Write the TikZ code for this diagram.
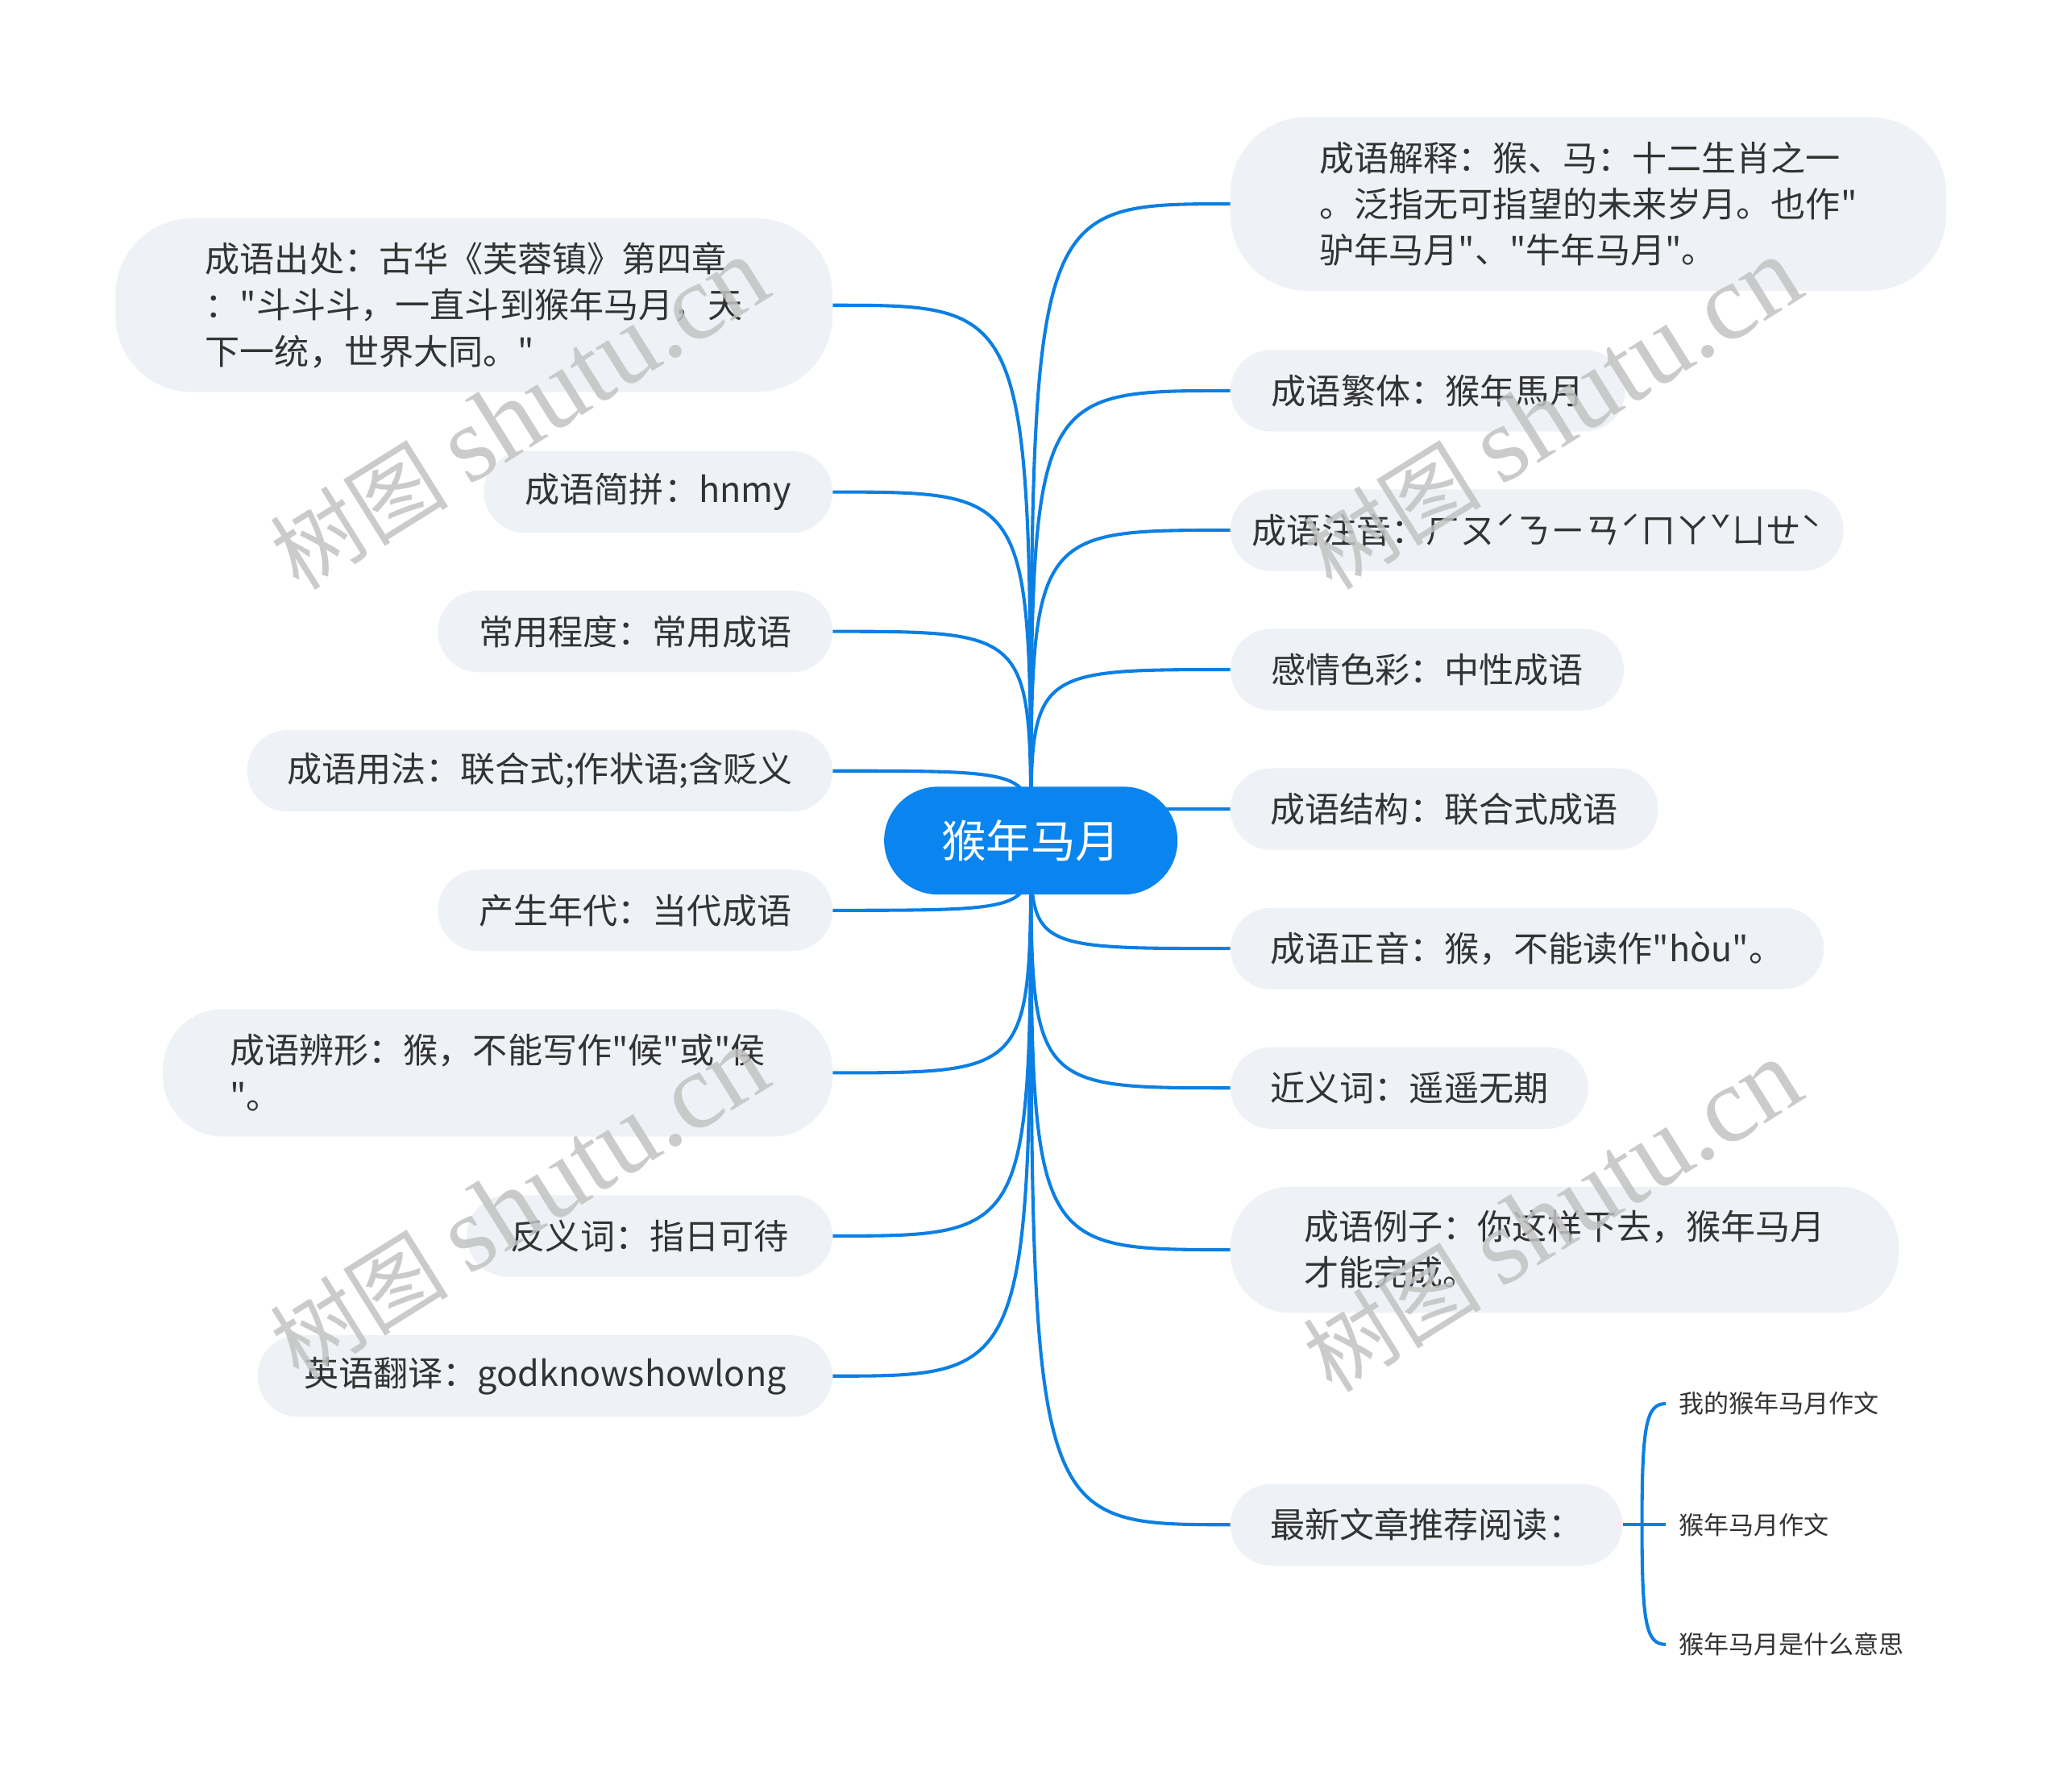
\documentclass[tikz,border=0pt]{standalone}
\usepackage{fontspec}
\setmainfont{Noto Sans CJK SC}
\newfontfamily\cjk{Noto Sans CJK SC}
\newfontfamily\wmlatin{Liberation Serif}
\usetikzlibrary{backgrounds}
\definecolor{branchblue}{HTML}{0B7FE3}
\definecolor{rootblue}{HTML}{0A84EE}
\definecolor{boxgray}{HTML}{EEF1F5}
\definecolor{textgray}{HTML}{333333}

\begin{document}
\begin{tikzpicture}[x=1pt,y=-1pt,
  centerbox/.style={fill=rootblue,text=white,rounded corners=41pt,
    minimum width=223pt,minimum height=82pt,inner sep=0pt,
    font=\cjk\fontsize{34pt}{40pt}\selectfont},
  topic/.style={fill=boxgray,text=textgray,rounded corners=31pt,
    minimum height=62pt,inner sep=0pt,align=left,
    font=\cjk\fontsize{26.4pt}{35pt}\selectfont},
  lefttopic/.style={topic,anchor=east},
  righttopic/.style={topic,anchor=west},
  leaf/.style={text=textgray,anchor=west,inner xsep=10pt,inner ysep=4pt,
    font=\cjk\fontsize{19pt}{24pt}\selectfont},
  link/.style={draw=branchblue,line width=2.5pt},
  wm/.style={text=black!24,text opacity=0.85,rotate=32,inner sep=0pt}]
  \useasboundingbox (0,0) rectangle (1568,1362);

  % center topic
  \node[centerbox] (idiom) at (783.5,639) {猴年马月};

  % left side
  \node[lefttopic,minimum width=545pt,minimum height=132pt,rounded corners=58pt]
    (source) at (633,232) {成语出处：古华《芙蓉镇》第四章\\："斗斗斗，一直斗到猴年马月，天\\下一统，世界大同。"};
  \node[lefttopic,minimum width=265pt] (abbr) at (633,374) {成语简拼：hnmy};
  \node[lefttopic,minimum width=300pt] (freq) at (633,480) {常用程度：常用成语};
  \node[lefttopic,minimum width=445pt] (usage) at (633,586) {成语用法：联合式;作状语;含贬义};
  \node[lefttopic,minimum width=300pt] (era) at (633,692) {产生年代：当代成语};
  \node[lefttopic,minimum width=509pt,minimum height=97pt,rounded corners=46pt]
    (shape) at (633,815.5) {成语辨形：猴，不能写作"候"或"侯\\"。};
  \node[lefttopic,minimum width=278pt] (anto) at (633,939.5) {反义词：指日可待};
  \node[lefttopic,minimum width=437pt] (eng) at (633,1046) {英语翻译：godknowshowlong};

  % right side
  \node[righttopic,minimum width=544pt,minimum height=132pt,rounded corners=58pt]
    (expl) at (935,155) {成语解释：猴、马：十二生肖之一\\。泛指无可指望的未来岁月。也作"\\驴年马月"、"牛年马月"。};
  \node[righttopic,minimum width=300pt] (trad) at (935,297) {成语繁体：猴年馬月};
  \node[righttopic,minimum width=466pt] (zhuyin) at (935,403) {成语注音：ㄏㄡˊㄋㄧㄢˊㄇㄚˇㄩㄝˋ};
  \node[righttopic,minimum width=299pt] (emo) at (935,509) {感情色彩：中性成语};
  \node[righttopic,minimum width=325pt] (struct) at (935,615) {成语结构：联合式成语};
  \node[righttopic,minimum width=451pt] (pron) at (935,721) {成语正音：猴，不能读作"hòu"。};
  \node[righttopic,minimum width=272pt] (syn) at (935,827) {近义词：遥遥无期};
  \node[righttopic,minimum width=508pt,minimum height=96pt,rounded corners=46pt]
    (exmp) at (935,950) {成语例子：你这样下去，猴年马月\\才能完成。};
  \node[righttopic,minimum width=298pt] (news) at (935,1159) {最新文章推荐阅读：};

  % reading list
  \node[leaf] (leafA) at (1266,1067) {我的猴年马月作文};
  \node[leaf] (leafB) at (1266,1159) {猴年马月作文};
  \node[leaf] (leafC) at (1266,1250) {猴年马月是什么意思};
  \coordinate (fork) at (1248,1159);

  % branches
  \begin{pgfonlayer}{background}
    \foreach \n in {source,abbr,freq,usage,era,shape,anto,eng}
      \draw[link] (idiom.center) .. controls (idiom.center |- \n.east) .. (\n.east);
    \foreach \n in {expl,trad,zhuyin,emo,struct,pron,syn,exmp,news}
      \draw[link] (idiom.center) .. controls (idiom.center |- \n.west) .. (\n.west);
  \end{pgfonlayer}
  \draw[link] (news.east) -- (leafB.west);
  \draw[link] (fork) .. controls +(0,-75) and +(-15,0) .. (leafA.west);
  \draw[link] (fork) .. controls +(0,75) and +(-15,0) .. (leafC.west);

  % watermarks
  \foreach \p [count=\i] in {(395,315),(395,915),(1180,315),(1180,925)}
    \node[wm] (wm\i) at \p {\cjk\fontsize{68pt}{70pt}\selectfont 树图 {\wmlatin\fontsize{82pt}{84pt}\selectfont shutu.cn}};
\end{tikzpicture}
\end{document}
